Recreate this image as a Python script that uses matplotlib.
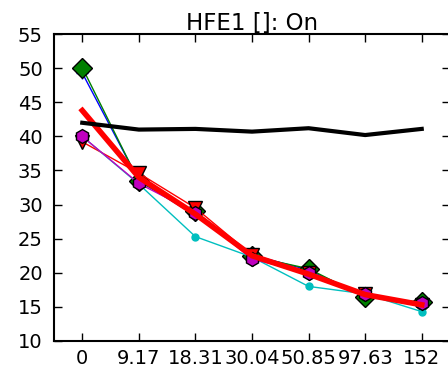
import matplotlib
matplotlib.use("Agg")
import matplotlib.pyplot as plt
import numpy as np

categories = ["0", "9.17", "18.31", "30.04", "50.85", "97.63", "152"]
blue_vals = [49.3, 33.5, 28.4, 22.6, 20.4, 16.6, 15.6]
green_vals = [50.1, 33.4, 29.0, 22.4, 20.6, 16.4, 15.7]
red_vals = [39.2, 34.6, 29.5, 22.6, 20.0, 16.9, 15.3]
cyan_vals = [40.0, 33.0, 25.3, 22.3, 18.0, 16.9, 14.3]
magenta_vals = [40.0, 33.1, 28.8, 22.0, 20.0, 16.9, 15.5]
mean_vals = [43.8, 34.0, 28.6, 22.5, 19.8, 16.8, 15.3]
ref_vals = [42.0, 41.0, 41.1, 40.7, 41.2, 40.2, 41.1]
title = "HFE1 []: On"

fig = plt.figure(figsize=(4.48, 3.71), dpi=100)
ax = fig.add_axes([0.1205, 0.081, 0.884, 0.827])
x = np.arange(len(categories))

ax.plot(x, blue_vals, color="b", marker="+", markersize=8, lw=1, mew=1)
ax.plot(x, green_vals, color="g", marker="D", markersize=10, lw=1, mec="k", mew=1)
ax.plot(x, red_vals, color="r", marker="v", markersize=10, lw=1, mec="k", mew=1)
ax.plot(x, cyan_vals, color="c", marker="o", markersize=5, lw=1, mec="c")
ax.plot(x, magenta_vals, color="m", marker="h", markersize=10, lw=1, mec="k", mew=1)
ax.plot(x, mean_vals, color="r", lw=4)
ax.plot(x, ref_vals, color="k", lw=3)

ax.set_xlim(-0.5, 6.5)
ax.set_ylim(10, 55)
ax.set_yticks(np.arange(10, 56, 5))
ax.set_xticks(x)
ax.set_xticklabels(categories)
ax.tick_params(direction="in", top=True, right=True, labelsize=14, length=6, width=1)
ax.tick_params(axis="y", pad=8)
ax.tick_params(axis="x", pad=6)
for s in ax.spines.values():
    s.set_linewidth(1.5)
ax.set_title(title, fontsize=16.5, pad=3)

fig.savefig("out.png", dpi=100)
